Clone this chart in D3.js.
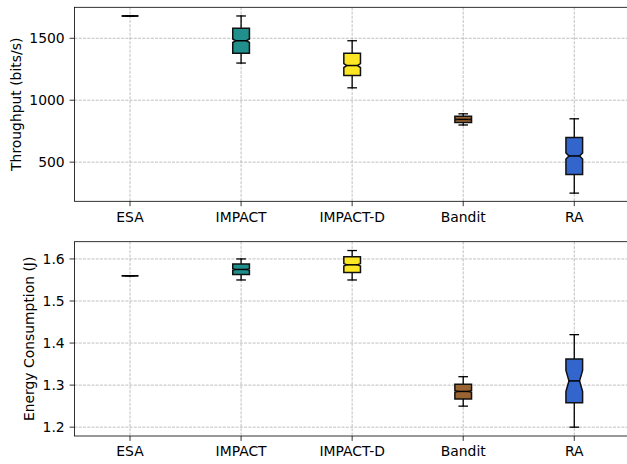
<!DOCTYPE html>
<html>
<head>
<meta charset="utf-8">
<script src="https://cdn.jsdelivr.net/npm/d3@7"></script>
<style>
  html, body { margin: 0; padding: 0; background: #fff; }
  svg { display: block; font-family: "DejaVu Sans", sans-serif; }
</style>
</head>
<body>
<svg id="chart" width="627" height="464"></svg>
<script>
// Methods compared
const categories = ["ESA", "IMPACT", "IMPACT-D", "Bandit", "RA"];
const boxColors = ["#888888", "#21908d", "#fde725", "#9a6432", "#3366cc"];

// Throughput (bits/s) box statistics
const throughputMin     = [1680, 1300, 1100, 800, 250];
const throughputQ1      = [1680, 1380, 1200, 820, 400];
const throughputMedian  = [1680, 1480, 1280, 845, 550];
const throughputQ3      = [1680, 1580, 1380, 870, 700];
const throughputMax     = [1680, 1680, 1480, 890, 850];
const throughputNotchLo = [1680, 1466, 1264, 842, 525];
const throughputNotchHi = [1680, 1494, 1296, 848, 575];
const throughputTicks   = [500, 1000, 1500];

// Energy consumption (J) box statistics
const energyMin     = [1.56, 1.55, 1.55, 1.25, 1.20];
const energyQ1      = [1.56, 1.563, 1.568, 1.267, 1.258];
const energyMedian  = [1.56, 1.575, 1.586, 1.285, 1.310];
const energyQ3      = [1.56, 1.588, 1.605, 1.302, 1.362];
const energyMax     = [1.56, 1.60, 1.62, 1.32, 1.42];
const energyNotchLo = [1.56, 1.573, 1.583, 1.283, 1.285];
const energyNotchHi = [1.56, 1.577, 1.589, 1.287, 1.335];
const energyTicks   = [1.2, 1.3, 1.4, 1.5, 1.6];

const svg = d3.select("#chart");
const FONT = 13.9;
const TICK = 4.9;

function panel(opts) {
  const { top, bottom, left, right, yDomain, ticks, tickFmt, label, labelX, stats } = opts;
  const x = d3.scaleLinear().domain([0.5, 5.5]).range([left, right]);
  const y = d3.scaleLinear().domain(yDomain).range([bottom, top]);
  const g = svg.append("g");

  // grid
  const grid = g.append("g").attr("stroke", "#b0b0b0").attr("stroke-width", 0.8)
    .attr("stroke-dasharray", "2.96,1.28");
  categories.forEach((c, i) => {
    grid.append("line").attr("x1", x(i + 1)).attr("x2", x(i + 1))
      .attr("y1", top).attr("y2", bottom);
  });
  ticks.forEach(t => {
    grid.append("line").attr("x1", left).attr("x2", right)
      .attr("y1", y(t)).attr("y2", y(t));
  });

  // boxes
  const width = 0.15;
  categories.forEach((c, i) => {
    const p = i + 1;
    const bl = x(p - width / 2), br = x(p + width / 2);
    const cl = x(p - width / 4), cr = x(p + width / 4);      // cap ends
    const nl = x(p - width * 0.32), nr = x(p + width * 0.32); // notch apex
    const s = {
      min: stats.min[i], q1: stats.q1[i], med: stats.med[i], q3: stats.q3[i],
      max: stats.max[i], lo: stats.lo[i], hi: stats.hi[i]
    };
    const wg = g.append("g").attr("stroke", "#000").attr("stroke-width", 1.3)
      .attr("stroke-linecap", "square");
    // whiskers
    wg.append("line").attr("x1", x(p)).attr("x2", x(p)).attr("y1", y(s.q1)).attr("y2", y(s.min));
    wg.append("line").attr("x1", x(p)).attr("x2", x(p)).attr("y1", y(s.q3)).attr("y2", y(s.max));
    // caps
    wg.append("line").attr("x1", cl).attr("x2", cr).attr("y1", y(s.min)).attr("y2", y(s.min));
    wg.append("line").attr("x1", cl).attr("x2", cr).attr("y1", y(s.max)).attr("y2", y(s.max));
    // notched box
    const pts = [
      [bl, y(s.q1)], [br, y(s.q1)], [br, y(s.lo)], [nr, y(s.med)], [br, y(s.hi)],
      [br, y(s.q3)], [bl, y(s.q3)], [bl, y(s.hi)], [nl, y(s.med)], [bl, y(s.lo)]
    ];
    g.append("path")
      .attr("d", d3.line()(pts) + "Z")
      .attr("fill", boxColors[i])
      .attr("stroke", "#111")
      .attr("stroke-width", 1.5)
      .attr("stroke-linejoin", "miter");
    // median
    g.append("line").attr("x1", s.q1 === s.q3 ? bl : nl).attr("x2", s.q1 === s.q3 ? br : nr)
      .attr("y1", y(s.med)).attr("y2", y(s.med))
      .attr("stroke", "#000").attr("stroke-width", 1.5);
  });

  // spines
  g.append("rect").attr("x", left).attr("y", top)
    .attr("width", right - left).attr("height", bottom - top)
    .attr("fill", "none").attr("stroke", "#000").attr("stroke-width", 0.8);

  // x axis ticks and labels
  categories.forEach((c, i) => {
    g.append("line").attr("x1", x(i + 1)).attr("x2", x(i + 1))
      .attr("y1", bottom).attr("y2", bottom + TICK)
      .attr("stroke", "#000").attr("stroke-width", 0.8);
    g.append("text").attr("x", x(i + 1)).attr("y", bottom + TICK + 4.9)
      .attr("dy", "0.76em").attr("text-anchor", "middle")
      .attr("font-size", FONT).attr("fill", "#000").text(c);
  });

  // y axis ticks and labels
  ticks.forEach(t => {
    g.append("line").attr("x1", left - TICK).attr("x2", left)
      .attr("y1", y(t)).attr("y2", y(t))
      .attr("stroke", "#000").attr("stroke-width", 0.8);
    g.append("text").attr("x", left - TICK - 4.9).attr("y", y(t))
      .attr("dy", "0.36em").attr("text-anchor", "end")
      .attr("font-size", FONT).attr("fill", "#000").text(tickFmt(t));
  });

  // y label
  g.append("text")
    .attr("transform", `translate(${labelX},${(top + bottom) / 2}) rotate(-90)`)
    .attr("text-anchor", "middle").attr("dy", "0.36em")
    .attr("font-size", FONT).attr("fill", "#000").text(label);
}

panel({
  top: 7.3, bottom: 201.3, left: 74.5, right: 629.8,
  yDomain: [184, 1750],
  ticks: throughputTicks, tickFmt: d => String(d),
  label: "Throughput (bits/s)", labelX: 16,
  stats: { min: throughputMin, q1: throughputQ1, med: throughputMedian, q3: throughputQ3,
           max: throughputMax, lo: throughputNotchLo, hi: throughputNotchHi }
});

panel({
  top: 241.7, bottom: 436, left: 74.5, right: 629.8,
  yDomain: [1.179, 1.641],
  ticks: energyTicks, tickFmt: d => d.toFixed(1),
  label: "Energy Consumption (J)", labelX: 29,
  stats: { min: energyMin, q1: energyQ1, med: energyMedian, q3: energyQ3,
           max: energyMax, lo: energyNotchLo, hi: energyNotchHi }
});
</script>
</body>
</html>
